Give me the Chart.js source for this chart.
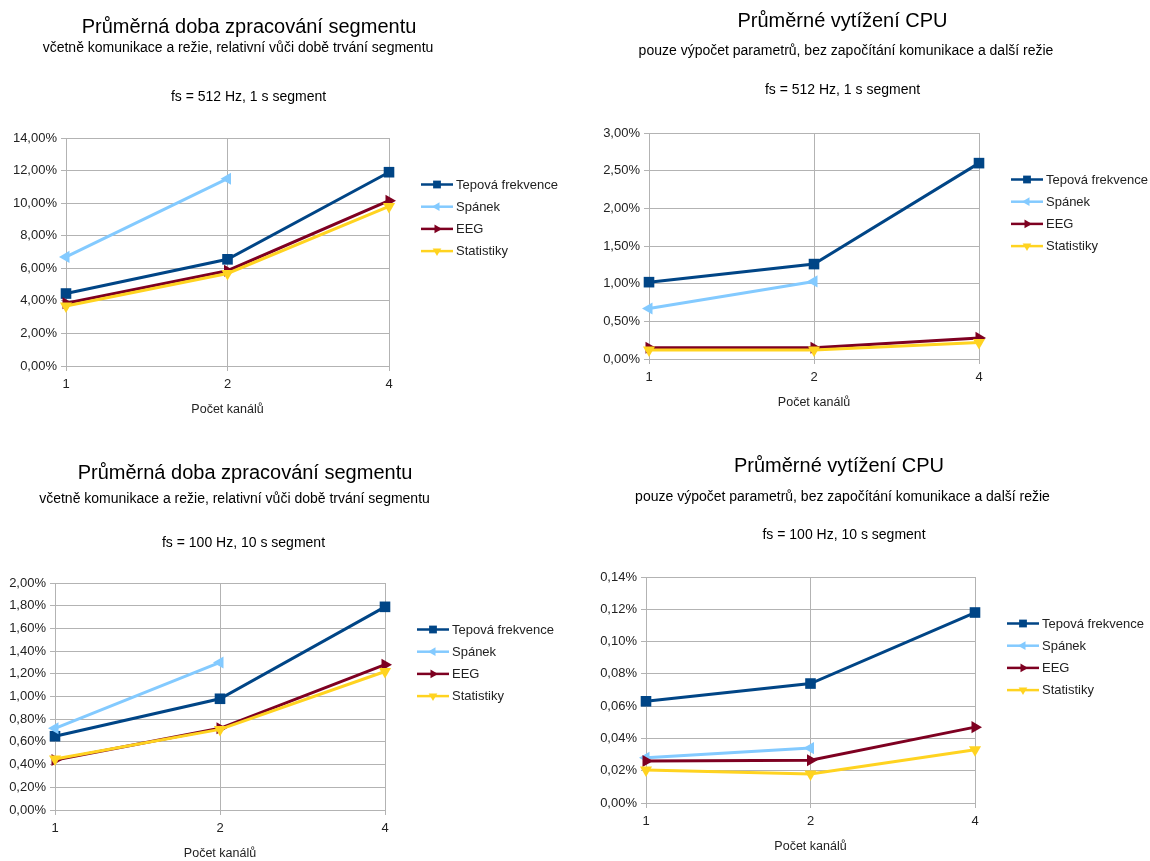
<!DOCTYPE html>
<html lang="cs">
<head>
<meta charset="utf-8">
<title>Průměrná doba zpracování segmentu a vytížení CPU</title>
<script src="https://cdn.jsdelivr.net/npm/chart.js@4.4.1/dist/chart.umd.min.js"></script>
<style>
  html, body { margin: 0; padding: 0; background: #ffffff; }
  #board { position: relative; width: 1150px; height: 861px; overflow: hidden; background: #ffffff; }
  #board canvas { position: absolute; }
</style>
</head>
<body>
<div id="board">
  <canvas id="dobaHigh" width="575" height="430" style="left:0;top:0"></canvas>
  <canvas id="cpuHigh" width="575" height="430" style="left:575px;top:0"></canvas>
  <canvas id="dobaLow" width="575" height="431" style="left:0;top:430px"></canvas>
  <canvas id="cpuLow" width="575" height="431" style="left:575px;top:430px"></canvas>
</div>
<script>
// ---- data -------------------------------------------------------------
const channels = ['1', '2', '4'];
const seriesNames = ['Tepová frekvence', 'Spánek', 'EEG', 'Statistiky'];

// fs = 512 Hz, 1 s segment: processing time relative to segment length [%]
const dobaTepova512 = [4.45, 6.55, 11.9];
const dobaSpanek512 = [6.7, 11.5, null];
const dobaEeg512    = [3.85, 5.85, 10.15];
const dobaStat512   = [3.68, 5.68, 9.8];

// fs = 512 Hz, 1 s segment: CPU load [%]
const cpuTepova512 = [1.02, 1.26, 2.6];
const cpuSpanek512 = [0.67, 1.03, null];
const cpuEeg512    = [0.15, 0.15, 0.28];
const cpuStat512   = [0.12, 0.12, 0.22];

// fs = 100 Hz, 10 s segment: processing time relative to segment length [%]
const dobaTepova100 = [0.65, 0.98, 1.79];
const dobaSpanek100 = [0.72, 1.30, null];
const dobaEeg100    = [0.44, 0.72, 1.28];
const dobaStat100   = [0.45, 0.71, 1.22];

// fs = 100 Hz, 10 s segment: CPU load [%]
const cpuTepova100 = [0.063, 0.074, 0.118];
const cpuSpanek100 = [0.028, 0.034, null];
const cpuEeg100    = [0.026, 0.0265, 0.047];
const cpuStat100   = [0.0205, 0.018, 0.033];

// y axis ranges (max, step) in percent
const yRangeDoba512 = [14, 2];
const yRangeCpu512  = [3, 0.5];
const yRangeDoba100 = [2, 0.2];
const yRangeCpu100  = [0.14, 0.02];

// texts
const titleDoba = 'Průměrná doba zpracování segmentu';
const subDoba   = 'včetně komunikace a režie, relativní vůči době trvání segmentu';
const titleCpu  = 'Průměrné vytížení CPU';
const subCpu    = 'pouze výpočet parametrů, bez započítání komunikace a další režie';
const cond512   = 'fs = 512 Hz, 1 s segment';
const cond100   = 'fs = 100 Hz, 10 s segment';
const axisTitle = 'Počet kanálů';

// ---- styling ----------------------------------------------------------
const FONT = '"Liberation Sans", Arial, Helvetica, sans-serif';
Chart.defaults.font.family = FONT;
Chart.defaults.color = '#222222';

const GRID = '#b3b3b3';
const seriesStyles = [
  { color: '#004586', pointStyle: 'rect',     rotation: 0,   radius: 7.5, legendRadius: 5.5 },
  { color: '#83caff', pointStyle: 'triangle', rotation: -90, radius: 7,   legendRadius: 5 },
  { color: '#7e0021', pointStyle: 'triangle', rotation: 90,  radius: 7,   legendRadius: 5 },
  { color: '#ffd320', pointStyle: 'triangle', rotation: 180, radius: 7,   legendRadius: 5 }
];

const X_AXIS_HEIGHT = 58;

function fmtPercent(v) {
  return v.toFixed(2).replace('.', ',') + '%';
}

// marker drawing for the side legend
function drawMarker(ctx, style, radius, x, y) {
  if (Chart.helpers && Chart.helpers.drawPoint) {
    Chart.helpers.drawPoint(ctx, { pointStyle: style.pointStyle, rotation: style.rotation, radius: radius, borderWidth: 0 }, x, y);
    return;
  }
  ctx.beginPath();
  if (style.pointStyle === 'rect') {
    const s = radius * Math.SQRT1_2;
    ctx.rect(x - s, y - s, 2 * s, 2 * s);
  } else {
    let a = style.rotation * Math.PI / 180;
    for (let k = 0; k < 3; k++) {
      const px = x + Math.sin(a) * radius, py = y - Math.cos(a) * radius;
      if (k === 0) ctx.moveTo(px, py); else ctx.lineTo(px, py);
      a += 2 * Math.PI / 3;
    }
    ctx.closePath();
  }
  ctx.fill();
}

// heading lines (title, subtitle, sampling conditions)
const headingsPlugin = {
  id: 'headings',
  afterDraw(chart, args, opts) {
    const ctx = chart.ctx;
    ctx.save();
    ctx.textAlign = 'center';
    ctx.textBaseline = 'alphabetic';
    ctx.fillStyle = '#000000';
    (opts.lines || []).forEach(l => {
      ctx.font = l.size + 'px ' + FONT;
      ctx.fillText(l.text, l.x, l.y);
    });
    ctx.restore();
  }
};

// legend to the right of the plot: line sample with marker + series name
const sideLegendPlugin = {
  id: 'sideLegend',
  afterDraw(chart, args, opts) {
    const { ctx, chartArea } = chart;
    const x0 = chartArea.right + opts.dx;
    let y = chartArea.top + opts.dy;
    ctx.save();
    chart.data.datasets.forEach((ds, i) => {
      const st = seriesStyles[i];
      ctx.strokeStyle = st.color;
      ctx.lineWidth = 2.5;
      ctx.beginPath();
      ctx.moveTo(x0, y);
      ctx.lineTo(x0 + opts.lineLength, y);
      ctx.stroke();
      ctx.fillStyle = st.color;
      drawMarker(ctx, st, st.legendRadius, x0 + opts.lineLength / 2, y);
      ctx.fillStyle = '#222222';
      ctx.font = '13px ' + FONT;
      ctx.textAlign = 'left';
      ctx.textBaseline = 'middle';
      ctx.fillText(ds.label, x0 + opts.lineLength + 3, y + 0.5);
      y += opts.spacing;
    });
    ctx.restore();
  }
};

function buildChart(id, series, yRange, area, headings) {
  const canvas = document.getElementById(id);
  const W = canvas.width, H = canvas.height;
  const datasets = series.map((values, i) => {
    const st = seriesStyles[i];
    return {
      label: seriesNames[i],
      data: values,
      borderColor: st.color,
      backgroundColor: st.color,
      pointBackgroundColor: st.color,
      pointBorderColor: st.color,
      pointBorderWidth: 0,
      borderWidth: 3,
      pointStyle: st.pointStyle,
      pointRotation: st.rotation,
      pointRadius: st.radius,
      pointHoverRadius: st.radius,
      tension: 0,
      clip: false,
      order: series.length - i
    };
  });

  return new Chart(canvas, {
    type: 'line',
    data: { labels: channels, datasets: datasets },
    plugins: [headingsPlugin, sideLegendPlugin],
    options: {
      responsive: false,
      animation: false,
      events: [],
      layout: {
        padding: {
          top: area.top,
          left: 0,
          right: W - area.right,
          bottom: H - area.bottom - X_AXIS_HEIGHT
        }
      },
      plugins: {
        legend: { display: false },
        tooltip: { enabled: false },
        title: { display: false },
        headings: { lines: headings },
        sideLegend: { dx: 32, dy: 46.5, spacing: 22.2, lineLength: 32 }
      },
      scales: {
        x: {
          type: 'category',
          offset: false,
          grid: { color: GRID, lineWidth: 1, tickLength: 5, drawTicks: true },
          border: { color: GRID, width: 1 },
          ticks: { padding: 6, font: { size: 13 }, color: '#222222', maxRotation: 0 },
          title: { display: true, text: axisTitle, font: { size: 12.5 }, color: '#222222', padding: { top: 0, bottom: 7 } },
          afterFit: s => { s.height = X_AXIS_HEIGHT; }
        },
        y: {
          min: 0,
          max: yRange[0],
          grid: { color: GRID, lineWidth: 1, tickLength: 5, drawTicks: true },
          border: { color: GRID, width: 1 },
          ticks: {
            stepSize: yRange[1],
            padding: 4,
            font: { size: 13 },
            color: '#222222',
            callback: v => fmtPercent(v)
          },
          afterFit: s => { s.width = area.left; }
        }
      }
    }
  });
}

buildChart('dobaHigh',
  [dobaTepova512, dobaSpanek512, dobaEeg512, dobaStat512],
  yRangeDoba512,
  { left: 66, right: 389, top: 138, bottom: 366 },
  [
    { text: titleDoba, size: 20, x: 249, y: 33 },
    { text: subDoba, size: 14, x: 238, y: 52 },
    { text: cond512, size: 14, x: 248.5, y: 101 }
  ]);

buildChart('cpuHigh',
  [cpuTepova512, cpuSpanek512, cpuEeg512, cpuStat512],
  yRangeCpu512,
  { left: 74, right: 404, top: 133, bottom: 359 },
  [
    { text: titleCpu, size: 20, x: 267.5, y: 27 },
    { text: subCpu, size: 14, x: 271, y: 55 },
    { text: cond512, size: 14, x: 267.5, y: 94 }
  ]);

buildChart('dobaLow',
  [dobaTepova100, dobaSpanek100, dobaEeg100, dobaStat100],
  yRangeDoba100,
  { left: 55, right: 385, top: 153, bottom: 380 },
  [
    { text: titleDoba, size: 20, x: 245, y: 49 },
    { text: subDoba, size: 14, x: 234.5, y: 73 },
    { text: cond100, size: 14, x: 243.5, y: 117 }
  ]);

buildChart('cpuLow',
  [cpuTepova100, cpuSpanek100, cpuEeg100, cpuStat100],
  yRangeCpu100,
  { left: 71, right: 400, top: 147, bottom: 373 },
  [
    { text: titleCpu, size: 20, x: 264, y: 42 },
    { text: subCpu, size: 14, x: 267.5, y: 71 },
    { text: cond100, size: 14, x: 269, y: 109 }
  ]);
</script>
</body>
</html>
